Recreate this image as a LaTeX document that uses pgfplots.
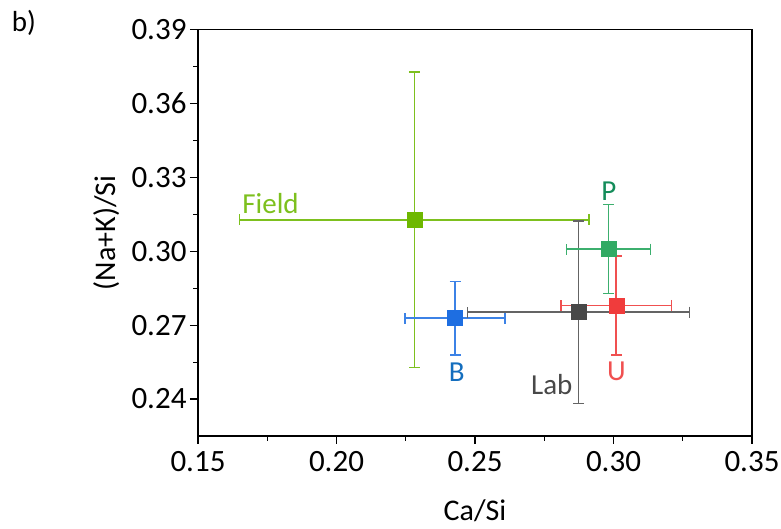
\documentclass[border=0pt]{standalone}
\usepackage{pgfplots}
\pgfplotsset{compat=1.18}
\usepackage{fontspec}
\setmainfont{Carlito}
\definecolor{fieldM}{RGB}{110,184,0}
\definecolor{fieldL}{RGB}{125,192,30}
\definecolor{blueM}{RGB}{30,110,225}
\definecolor{blueL}{RGB}{60,130,230}
\definecolor{blueT}{RGB}{20,110,190}
\definecolor{labM}{RGB}{72,72,72}
\definecolor{labL}{RGB}{100,100,100}
\definecolor{uM}{RGB}{240,60,60}
\definecolor{uL}{RGB}{240,80,80}
\definecolor{pM}{RGB}{50,170,100}
\definecolor{pL}{RGB}{60,175,110}
\definecolor{pT}{RGB}{20,140,90}
\pgfplotsset{
  myerr/.style 2 args={only marks, mark=square*, mark size=7.5pt, color=#1,
    error bars/.cd, x dir=both, x explicit, y dir=both, y explicit,
    error bar style={color=#2, line width=1.6pt},
    error mark=-,
    error mark options={rotate=90, mark size=5.5pt, line width=1.6pt, color=#2},
    /pgfplots/.cd},
}
\begin{document}
\begin{tikzpicture}
\useasboundingbox (0,0) rectangle (781pt,529pt);
\node[font=\fontsize{29}{34}\selectfont] at (24pt,506pt) {b)};
\begin{axis}[
  at={(198pt,93pt)}, anchor=south west,
  scale only axis, width=554pt, height=406.4pt,
  xmin=0.15, xmax=0.35, ymin=0.225, ymax=0.39,
  xtick={0.15,0.20,...,0.351}, ytick={0.24,0.27,...,0.391},
  minor x tick num=1, minor y tick num=1,
  xtick pos=bottom, ytick pos=left, tick align=outside,
  major tick length=8pt, minor tick length=5pt,
  every tick/.style={black, line width=1.2pt},
  axis line style={black, line width=1.2pt},
  /pgf/number format/assume math mode=true,
  /pgf/number format/.cd, fixed, fixed zerofill, precision=2, /pgfplots/.cd,
  tick label style={font=\fontsize{31}{36}\selectfont},
  xticklabel style={yshift=-4pt},
  every axis x label/.style={at={(axis description cs:0.5,0)}, anchor=center, yshift=-75pt, font=\fontsize{30}{36}\selectfont},
  every axis y label/.style={at={(axis description cs:-0.1643,0.5)}, rotate=90, anchor=center, font=\fontsize{30}{36}\selectfont},
  xlabel={Ca/Si}, ylabel={(Na+K)/Si},
  clip=false,
]
% Field
\addplot[myerr={fieldM}{fieldL}]
  coordinates {(0.2281,0.3128) +- (0.0631,0.0600)};
% B
\addplot[myerr={blueM}{blueL}]
  coordinates {(0.2428,0.2729) +- (0.0180,0.0149)};
% Lab
\addplot[myerr={labM}{labL}]
  coordinates {(0.2874,0.2753) +- (0.0401,0.0371)};
% U
\addplot[myerr={uM}{uL}]
  coordinates {(0.3010,0.2780) +- (0.0200,0.0200)};
% P
\addplot[myerr={pM}{pL}]
  coordinates {(0.2982,0.3009) +- (0.0151,0.0181)};
\node[font=\fontsize{29}{34}\selectfont, text=fieldL] at (axis cs:0.1762,0.3195) {Field};
\node[font=\fontsize{29}{34}\selectfont, text=blueT] at (axis cs:0.2434,0.2509) {B};
\node[font=\fontsize{29}{34}\selectfont, text=labM] at (axis cs:0.2777,0.2460) {Lab};
\node[font=\fontsize{29}{34}\selectfont, text=uL] at (axis cs:0.3011,0.2513) {U};
\node[font=\fontsize{29}{34}\selectfont, text=pT] at (axis cs:0.2983,0.3243) {P};
\end{axis}
\end{tikzpicture}
\end{document}
